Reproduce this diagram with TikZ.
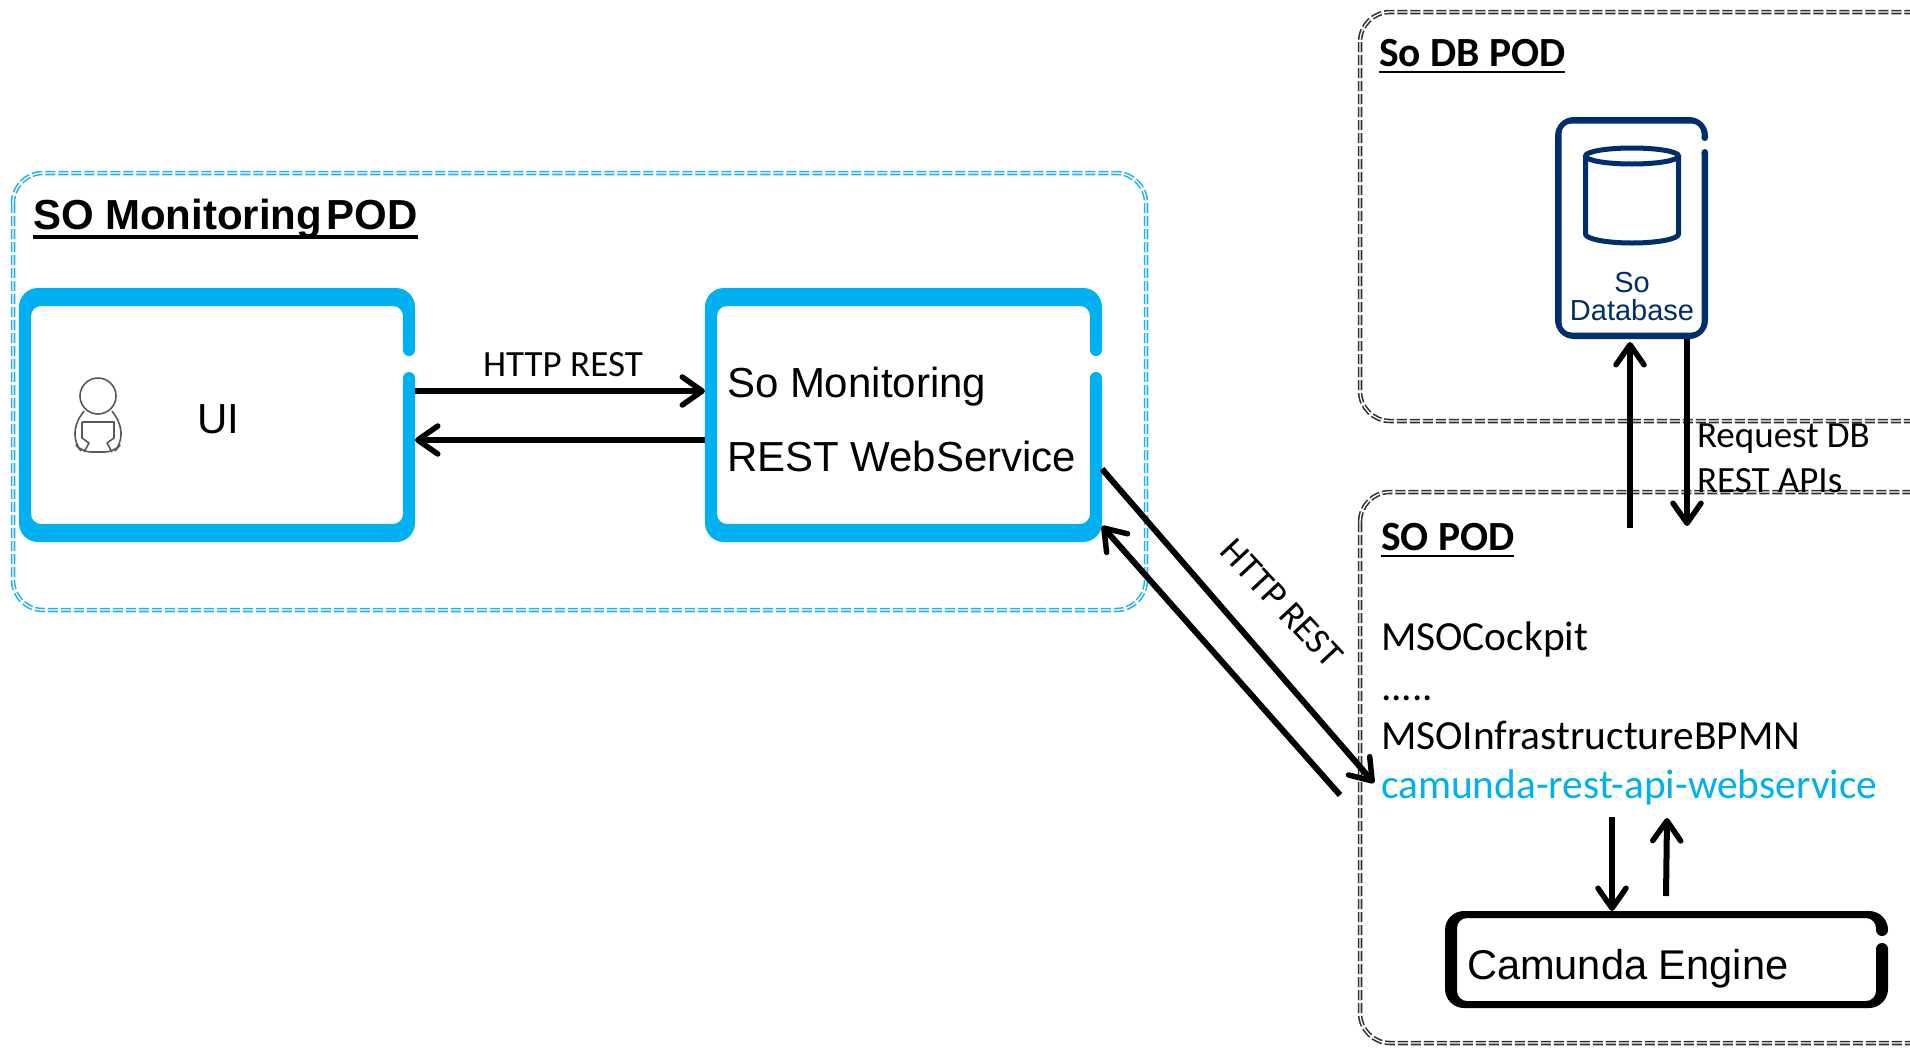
\documentclass[tikz,border=0pt]{standalone}
\usepackage{fontspec}
\setmainfont{Carlito}
\newfontfamily\arialf{Liberation Sans}
\usetikzlibrary{arrows.meta}
\definecolor{skyband}{HTML}{00B0F0}
\definecolor{navyband}{HTML}{002D6C}
\definecolor{podsky}{HTML}{22B2EE}
\definecolor{podgrey}{HTML}{303030}
\definecolor{icongrey}{HTML}{595959}
\newcommand{\fsz}[1]{\fontsize{#1}{#1}\selectfont}
% name, colour, x1, y1, x2, y2, side thickness, top/bottom thickness, gap g1/g2
\newcommand{\bandbox}[9]{%
  \node[boxanchor,minimum width={(#5-#3)*1pt},minimum height={(#6-#4)*1pt}] (#1) at ({(#3+#5)/2},{(#4+#6)/2}) {};
  \fill[#2,even odd rule] [rounded corners=19pt] (#3,#4) rectangle (#5,#6)
     [rounded corners=10pt] ({#3+#7},{#4+#8}) rectangle ({#5-#7},{#6-#8});
  \foreach \ga/\gb in {#9}{%
    \fill[white] ({#5-#7-1},{\ga-#7/2}) rectangle ({#5+1},{\gb+#7/2});
    \fill[#2] ({#5-#7/2},{\ga-#7/2}) circle ({#7/2});
    \fill[#2] ({#5-#7/2},{\gb+#7/2}) circle ({#7/2});
  }%
}
\tikzset{
  x=1pt,y=-1pt,
  boxanchor/.style={inner sep=0pt,outer sep=0pt,rectangle},
  podframe/.style={rounded corners=30pt,line width=1.6pt,double=white,double distance=1.3pt,dash pattern=on 10pt off 3pt},
  skypod/.style={podframe,draw=podsky},
  greypod/.style={podframe,draw=podgrey},
  txt/.style={inner sep=0pt,outer sep=0pt,anchor=base west,text=black},
  lbl/.style={txt,font=\fsz{37}},
  body/.style={txt,font=\fsz{41.4}},
  arialtxt/.style={txt,font=\arialf\fsz{42}},
  podtitle/.style={txt,font=\bfseries\fsz{41.5}},
  uline/.style={draw=black,line width=2pt},
  flow/.style={draw=black,line width=6pt,-{Straight Barb[length=20pt,width=28pt,line width=5.5pt,round]}},
  icon/.style={draw=icongrey,line width=1.6pt,line join=round},
}
\begin{document}
\begin{tikzpicture}
\useasboundingbox (0,0) rectangle (1910,1047);
\fill[white] (0,0) rectangle (1910,1047);
\clip (0,0) rectangle (1910,1047);

% pods
\draw[skypod] (13,173) rectangle (1146,610);
\draw[greypod] (1360,12) rectangle (1945,421);
\draw[greypod] (1360,492) rectangle (1945,1043);

% titles
\node[txt,font=\arialf\bfseries\fsz{42}] (tmon) at (33,229) {SO Monitoring\kern.1em POD};
\draw[line width=4pt] ([yshift=-8pt]tmon.base west) -- ([yshift=-8pt]tmon.base east);
\node[podtitle] (tdb) at (1379,66) {So DB POD};
\draw[uline] ([yshift=-6pt]tdb.base west) -- ([yshift=-6pt]tdb.base east);
\node[podtitle] (tso) at (1381,550) {SO POD};
\draw[uline] ([yshift=-6pt]tso.base west) -- ([yshift=-6pt]tso.base east);

% boxes
\bandbox{ui}{skyband}{19}{288}{415}{542}{12}{18}{356/372}
\bandbox{mon}{skyband}{705}{288}{1102}{542}{12}{18}{356/372}
\bandbox{sodb}{navyband}{1555}{117}{1708}{339}{6.5}{6.5}{141/149}
\bandbox{cam}{black}{1445}{911}{1888}{1008}{12}{7}{936/943}

% UI contents
\draw[icon] (98,396) circle (18);
\draw[icon] [rounded corners=9pt] (84,411) -- (75,424) -- (75,444) -- (82,452) -- (114,452) -- (121,444) -- (121,424) -- (112,411);
\draw[icon] (82,422) -- (114,422) -- (114,438) -- (107,443) -- (112,452);
\draw[icon] (82,422) -- (82,438) -- (89,443) -- (84,452);
\node[arialtxt] (uitext) at (197,433) {UI};

% monitoring text
\node[arialtxt] (montxt1) at (727,397) {So Monitoring};
\node[arialtxt] (montxt2) at (727,471) {REST WebService};

% database
\draw[navyband,line width=5pt] (1585.5,157) -- (1585.5,234) arc[start angle=180,end angle=360,x radius=46.5,y radius=-9] -- (1678.5,157);
\draw[navyband,line width=5pt] (1632,156) ellipse [x radius=46.5,y radius=8];
\node[txt,font=\arialf\fsz{29},text=navyband,anchor=base] (dbt1) at (1632,292) {So};
\node[txt,font=\arialf\fsz{29},text=navyband,anchor=base] (dbt2) at (1632,320) {Database};

% SO POD list
\node[body] (l1) at (1381,650) {MSOCockpit};
\node[body] (l2) at (1381,700) {.....};
\node[body] (l3) at (1381,749) {MSOInfrastructureBPMN};
\node[body,text=skyband] (l4) at (1381,798) {camunda-rest-api-webservice};
\node[txt,font=\arialf\fsz{41.6}] (camt) at (1467,979) {Camunda Engine};

% labels
\node[lbl] (req1) at (1697,447) {Request DB};
\node[lbl] (req2) at (1697,492) {REST APIs};
\node[lbl,anchor=base] (h1) at (563,376) {HTTP REST};
\node[lbl,anchor=base,rotate=-47] (h2) at (1273,611) {HTTP REST};

% connectors
\coordinate (soin) at (1374,783);
\coordinate (soout) at (1340,795);
\coordinate (dbfree) at (1630,528);
\coordinate (dbend) at (1687,526);
\coordinate (camupfree) at (1666,896);
\coordinate (campt) at (1667,818);
\coordinate (l4a) at (1612,817);
\draw[flow] ([yshift=24pt]ui.east) -- ([yshift=24pt]mon.west);
\draw[flow] ([yshift=-25pt]mon.west) -- ([yshift=-25pt]ui.east);
\draw[flow] ([yshift=-54pt]mon.east) -- (soin);
\draw[flow] (soout) -- ([yshift=-111pt]mon.east);
\draw[flow] (dbfree) -- ([yshift=-3pt]sodb.south -| dbfree);
\draw[flow] (sodb.south -| dbend) -- (dbend);
\draw[flow] (l4a) -- (cam.north -| l4a);
\draw[flow] (camupfree) -- (campt);
\end{tikzpicture}
\end{document}
